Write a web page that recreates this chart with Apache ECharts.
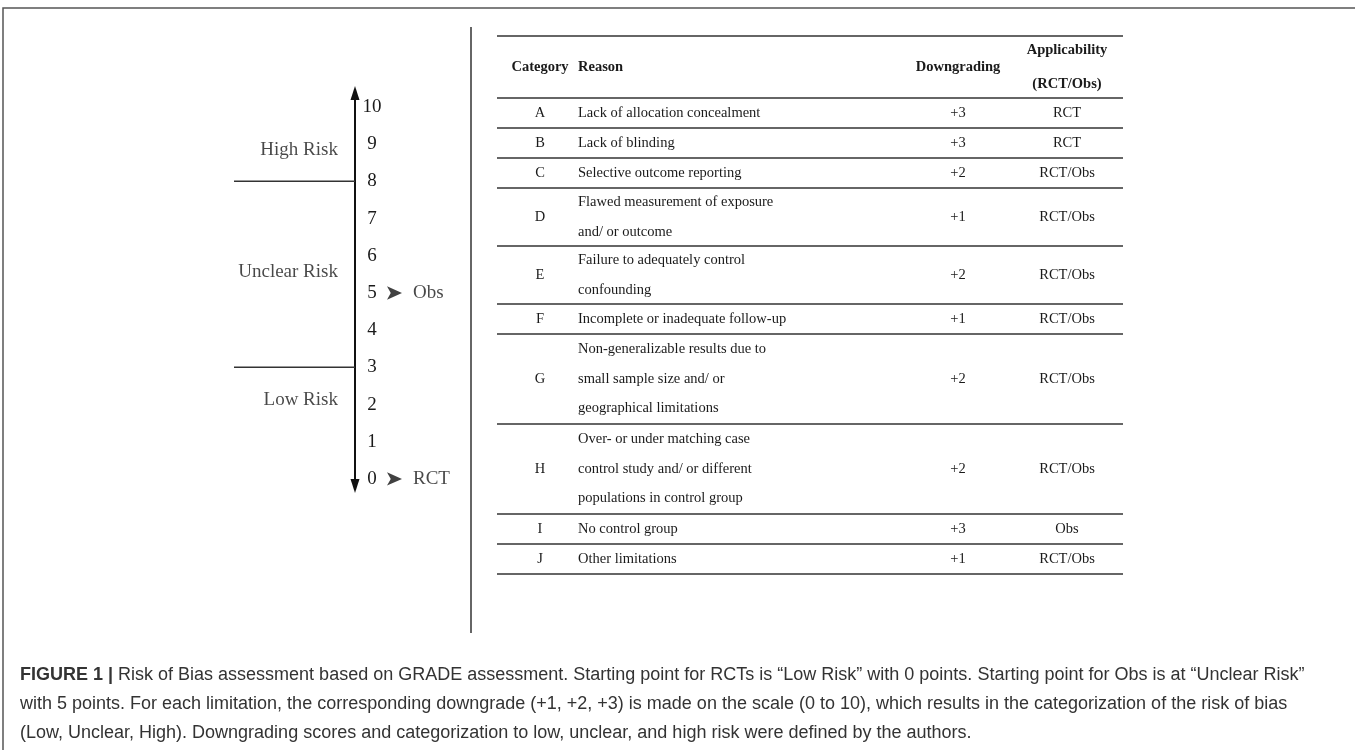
<!DOCTYPE html>
<html><head><meta charset="utf-8">
<script src="https://cdn.jsdelivr.net/npm/echarts@6/dist/echarts.min.js"></script>
<style>html,body{margin:0;padding:0;background:#fff;}#c{width:1355px;height:750px;}</style>
</head><body><div id="c"></div>
<script>
// ---- data ----
const scaleTicks = [0,1,2,3,4,5,6,7,8,9,10];
const riskThresholds = [3, 8];
const riskZones = ['Low Risk', 'Unclear Risk', 'High Risk'];
const riskZoneLabelAt = [2.12, 5.57, 8.85];
const startNames = ['RCT', 'Obs'];
const startPoints = [0, 5];

const headers = ['Category', 'Reason', 'Downgrading', 'Applicability\n(RCT/Obs)'];
const categories = ['A','B','C','D','E','F','G','H','I','J'];
const reasons = [
  'Lack of allocation concealment',
  'Lack of blinding',
  'Selective outcome reporting',
  'Flawed measurement of exposure\nand/ or outcome',
  'Failure to adequately control\nconfounding',
  'Incomplete or inadequate follow-up',
  'Non-generalizable results due to\nsmall sample size and/ or\ngeographical limitations',
  'Over- or under matching case\ncontrol study and/ or different\npopulations in control group',
  'No control group',
  'Other limitations'
];
const downgrades = ['+3','+3','+2','+1','+2','+1','+2','+2','+3','+1'];
const applicability = ['RCT','RCT','RCT/Obs','RCT/Obs','RCT/Obs','RCT/Obs','RCT/Obs','RCT/Obs','Obs','RCT/Obs'];

const captionBold = 'FIGURE 1 |';
const captionLines = [
  ' Risk of Bias assessment based on GRADE assessment. Starting point for RCTs is \u201CLow Risk\u201D with 0 points. Starting point for Obs is at \u201CUnclear Risk\u201D',
  'with 5 points. For each limitation, the corresponding downgrade (+1, +2, +3) is made on the scale (0 to 10), which results in the categorization of the risk of bias',
  '(Low, Unclear, High). Downgrading scores and categorization to low, unclear, and high risk were defined by the authors.'
];

// ---- layout ----
const SERIF = '"Liberation Serif", "Times New Roman", serif';
const SANS = '"Liberation Sans", Arial, sans-serif';
const INK = '#1a1a1a';
const tblL = 497, tblR = 1123, tblTop = 36, headBottom = 98;
const rowH = {1: 30, 2: 58, 3: 90};
const textPitch = 29.5;
const colCat = 540, colReason = 578, colDown = 958, colApp = 1067;
const tFont = '14.5px ' + SERIF;
const tFontB = 'bold 14.5px ' + SERIF;

const graphics = [];
// frame
graphics.push({type:'polyline', shape:{points:[[3,750],[3,8],[1355,8]]}, style:{stroke:'#555', lineWidth:1.5, fill:null}});
// separator
graphics.push({type:'line', shape:{x1:471,y1:27,x2:471,y2:633}, style:{stroke:'#333', lineWidth:1.5}});
// table lines + text
function hline(y){ graphics.push({type:'line', shape:{x1:tblL,y1:y,x2:tblR,y2:y}, style:{stroke:'#333', lineWidth:1.3}}); }
hline(tblTop); hline(headBottom);
const headMid = (tblTop + headBottom) / 2;
const headX = [colCat, colReason, colDown, colApp];
const headAlign = ['center','left','center','center'];
headers.forEach((h,i)=>{
  graphics.push({type:'text', style:{text:h, x:headX[i], y:headMid, font:tFontB, fill:INK, align:headAlign[i], verticalAlign:'middle', lineHeight:34}});
});
let y = headBottom;
categories.forEach((c,i)=>{
  const n = reasons[i].split('\n').length;
  const h = rowH[n];
  const mid = y + h/2;
  graphics.push({type:'text', style:{text:c, x:colCat, y:mid, font:tFont, fill:INK, align:'center', verticalAlign:'middle'}});
  graphics.push({type:'text', style:{text:reasons[i], x:colReason, y:mid, font:tFont, fill:INK, align:'left', verticalAlign:'middle', lineHeight:textPitch}});
  graphics.push({type:'text', style:{text:downgrades[i], x:colDown, y:mid, font:tFont, fill:INK, align:'center', verticalAlign:'middle'}});
  graphics.push({type:'text', style:{text:applicability[i], x:colApp, y:mid, font:tFont, fill:INK, align:'center', verticalAlign:'middle'}});
  y += h;
  hline(y);
});
// caption
graphics.push({type:'text', style:{
  text: '{b|' + captionBold + '}' + captionLines.join('\n'),
  x: 20, y: 661, font: '18px ' + SANS, fill:'#333', lineHeight: 29,
  rich: { b: { fontWeight:'bold', fontSize:18, fontFamily: SANS, fill:'#333', lineHeight:29 } }
}});

// ---- scale chart ----
const series = [];
riskThresholds.forEach(t=>{
  series.push({type:'line', data:[[-121,t],[0,t]], symbol:'none', lineStyle:{color:'#333', width:1.5}, silent:true});
});
series.push({type:'scatter', data: riskZoneLabelAt.map((v,i)=>({value:[-17,v], name:riskZones[i]})),
  symbolSize:0.1, label:{show:true, position:'left', distance:0, formatter:'{b}', fontFamily:SERIF, fontSize:19, color:INK}, silent:true});
series.push({type:'scatter', data: startPoints.map((v,i)=>({value:[47,v], name:startNames[i]})),
  symbol:'arrow', symbolSize:[10,15], symbolRotate:-90, itemStyle:{color:'#111'},
  label:{show:true, position:'right', distance:11, formatter:'{b}', fontFamily:SERIF, fontSize:19, color:INK}, silent:true});

const chart = echarts.init(document.getElementById('c'), null, {renderer:'canvas'});
chart.setOption({
  animation:false,
  backgroundColor:'#fff',
  grid:{left:234, top:93, width:236, height:393},
  xAxis:{type:'value', min:-121, max:115, show:false},
  yAxis:{type:'value', min:-0.19, max:10.376, position:'left', offset:-121,
    axisLine:{show:true, onZero:false, symbol:['triangle','triangle'], symbolSize:[9,14], lineStyle:{color:'#111', width:2}},
    axisTick:{show:false},
    splitLine:{show:false},
    axisLabel:{show:true, inside:true, margin:17, align:'center', customValues:scaleTicks, fontFamily:SERIF, fontSize:19, color:INK}
  },
  series: series,
  graphic: graphics
});
</script></body></html>
